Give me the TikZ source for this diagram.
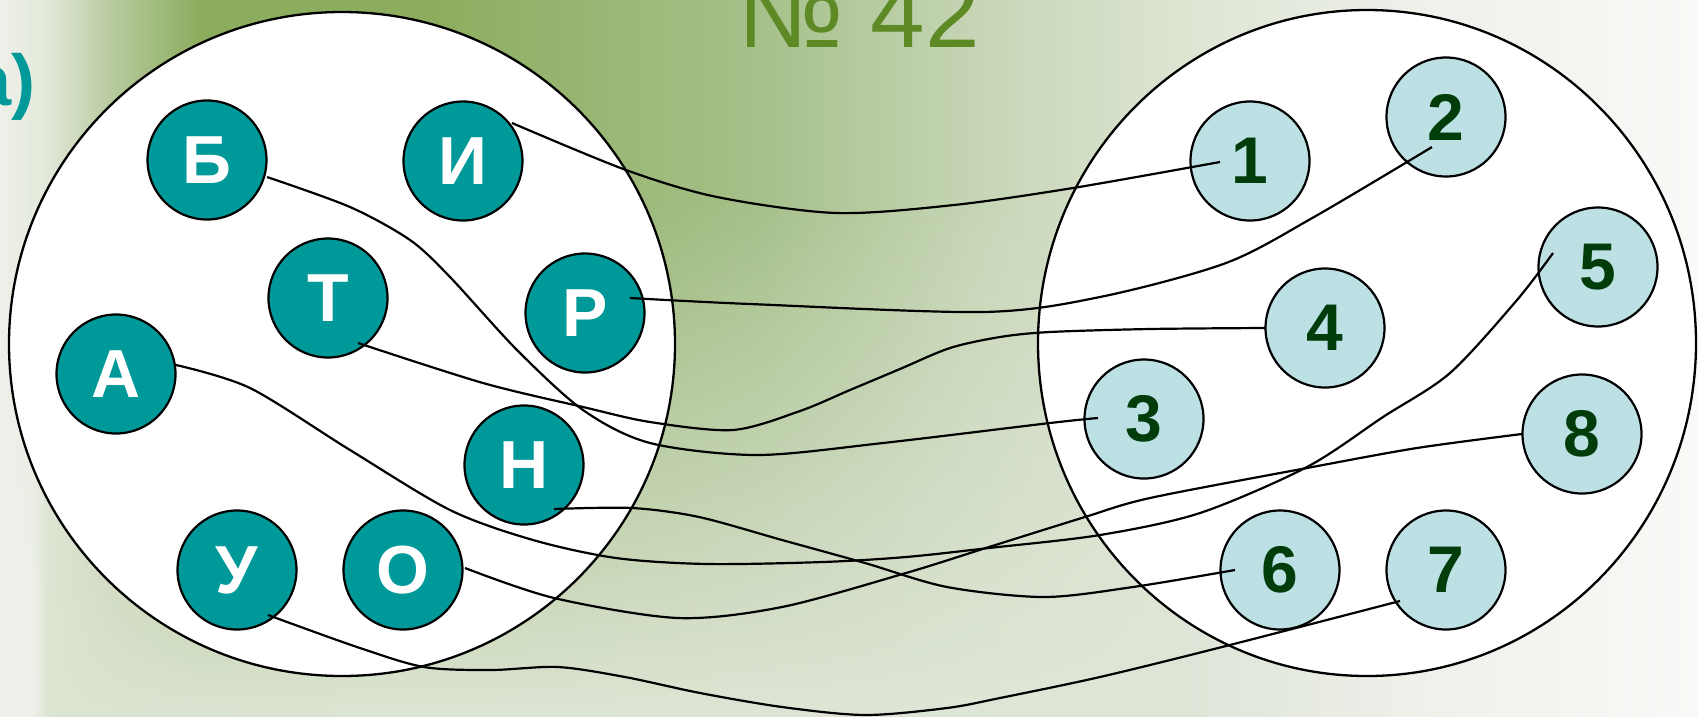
\documentclass[tikz,border=0pt]{standalone}
\usepackage{fontspec}
\setmainfont{Liberation Sans}
\usetikzlibrary{calc,fadings}

\definecolor{tealA}{HTML}{009999}
\definecolor{lblue}{HTML}{BCE0E3}
\definecolor{dgreen}{HTML}{003D0A}
\definecolor{titlegreen}{HTML}{5E8A26}

\definecolor{ct0}{HTML}{EEF0EA}
\definecolor{ct1}{HTML}{E3E9DA}
\definecolor{ct2}{HTML}{B9CBA0}
\definecolor{ct3}{HTML}{8CAD5E}
\definecolor{ct5}{HTML}{A6C08A}
\definecolor{ct6}{HTML}{C6D5B5}
\definecolor{ct7}{HTML}{DDE5D3}
\definecolor{ct9}{HTML}{F9F9F7}
\definecolor{cb0}{HTML}{F0F1EC}
\definecolor{cb1}{HTML}{DCE4D2}
\definecolor{cb2}{HTML}{DFE6D8}
\definecolor{cb4}{HTML}{FAFAF8}

\pgfdeclarehorizontalshading{bgtop}{100bp}{
  color(0bp)=(ct0); color(25bp)=(ct0); color(26.33bp)=(ct1);
  color(28.24bp)=(ct2); color(30.89bp)=(ct3); color(37.66bp)=(ct3);
  color(47.38bp)=(ct5); color(53.71bp)=(ct6); color(60.04bp)=(ct7);
  color(66.52bp)=(ct0); color(75bp)=(ct9); color(100bp)=(ct9)}
\pgfdeclarehorizontalshading{bgbot}{100bp}{
  color(0bp)=(cb0); color(25bp)=(cb0); color(26.03bp)=(cb0);
  color(26.41bp)=(cb1); color(60.04bp)=(cb2); color(66.22bp)=(ct0);
  color(75bp)=(cb4); color(100bp)=(cb4)}
\tikzfading[name=fadeup, top color=transparent!100, bottom color=transparent!0]

\tikzset{
  lnode/.style={circle, draw=black, line width=2.2pt, fill=tealA, minimum size=119pt,
    inner sep=0pt, text=white, font=\fontsize{68}{68}\selectfont\bfseries},
  rnode/.style={circle, draw=black, line width=2.2pt, fill=lblue, minimum size=119pt,
    inner sep=0pt, text=dgreen, font=\fontsize{66}{66}\selectfont\bfseries},
  conn/.style={line width=2.2pt, draw=black},
  setellipse/.style={draw=black, line width=2.3pt, fill=white}
}

\begin{document}
\begin{tikzpicture}[x=1pt, y=-1pt]
\useasboundingbox (0,0) rectangle (1698,716);
\clip (0,0) rectangle (1698,716);

% background
\shade[shading=bgtop] (0,0) rectangle (1698,716);
\shade[shading=bgbot, path fading=fadeup] (0,200) rectangle (1698,716);

% texts
\node[anchor=base east, inner sep=0pt, text=tealA, font=\fontsize{72}{72}\selectfont\bfseries] (lab) at (36,105) {а)};
\node[anchor=base east, inner sep=0pt, text=titlegreen, font=\fontsize{98}{98}\selectfont] (title) at (980,47) {№ 42};

% sets
\draw[setellipse] (342,344) ellipse [x radius=333pt, y radius=332pt];
\draw[setellipse] (1367,343) ellipse [x radius=329pt, y radius=333pt];

% left nodes
\node[lnode] (B) at (207,160) {Б};
\node[lnode] (I) at (463,161) {И};
\node[lnode] (T) at (328,298) {Т};
\node[lnode] (R) at (585,313) {Р};
\node[lnode] (A) at (116,374) {А};
\node[lnode] (N) at (524,465) {Н};
\node[lnode] (U) at (237,570) {У};
\node[lnode] (O) at (403,570) {О};

% right nodes
\node[rnode] (n1) at (1250,161) {1};
\node[rnode] (n2) at (1446,117) {2};
\node[rnode] (n5) at (1598,267) {5};
\node[rnode] (n4) at (1325,328) {4};
\node[rnode] (n3) at (1144,419) {3};
\node[rnode] (n8) at (1582,434) {8};
\node[rnode] (n6) at (1280,570) {6};
\node[rnode] (n7) at (1446,570) {7};

% connector ends
\coordinate (sI) at ($(I)+(49,-38)$);  \coordinate (e1) at ($(n1)+(-30,1)$);
\coordinate (sR) at ($(R)+(45,-15)$);  \coordinate (e2) at ($(n2)+(-14,30)$);
\coordinate (sB) at ($(B)+(60,17)$);   \coordinate (e3) at ($(n3)+(-46,-1)$);
\coordinate (sT) at ($(T)+(30,45)$);   \coordinate (e4) at ($(n4)+(-60,0)$);
\coordinate (sA) at ($(A)+(60,-9)$);   \coordinate (e5) at ($(n5)+(-45,-14)$);
\coordinate (sN) at ($(N)+(30,44)$);   \coordinate (e6) at ($(n6)+(-45,0)$);
\coordinate (sO) at ($(O)+(62,-2)$);   \coordinate (e8) at ($(n8)+(-60,0)$);
\coordinate (sU) at ($(U)+(31,45)$);   \coordinate (e7) at ($(n7)+(-46,31)$);

% connectors
\draw[conn] plot[smooth] coordinates {(sI) (626,170) (717,197) (836,213) (954,205) (1073,188) (e1)};
\draw[conn] plot[smooth] coordinates {(sR) (750,304) (983,312) (1100,297) (1226,263) (1314,217) (e2)};
\draw[conn] plot[smooth] coordinates {(sB) (350,207) (410,240) (450,277) (517,350) (583,410) (650,443) (757,455) (883,443) (1050,423) (e3)};
\draw[conn] plot[smooth] coordinates {(sT) (483,383) (583,407) (650,422) (733,430) (800,411) (850,390) (900,369) (950,348) (1000,337) (1050,332) (1150,329) (e4)};
\draw[conn] plot[smooth] coordinates {(sA) (250,388) (350,450) (450,510) (533,540) (616,558) (707,564) (823,562) (906,557) (989,548) (1100,535) (1200,513) (1307,467) (1383,417) (1450,373) (1517,300) (e5)};
\draw[conn] plot[smooth] coordinates {(sN) (632,508) (699,517) (782,540) (865,563) (947,587) (1044,597) (1133,587) (e6)};
\draw[conn] plot[smooth] coordinates {(sO) (554,598) (678,618) (782,607) (906,573) (989,547) (1085,517) (1150,498) (1307,468) (1417,448) (e8)};
\draw[conn] plot[smooth] coordinates {(sU) (357,647) (424,667) (491,670) (558,667) (625,677) (700,693) (782,707) (865,715) (947,708) (1000,698) (1100,677) (1222,647) (e7)};
\end{tikzpicture}
\end{document}
